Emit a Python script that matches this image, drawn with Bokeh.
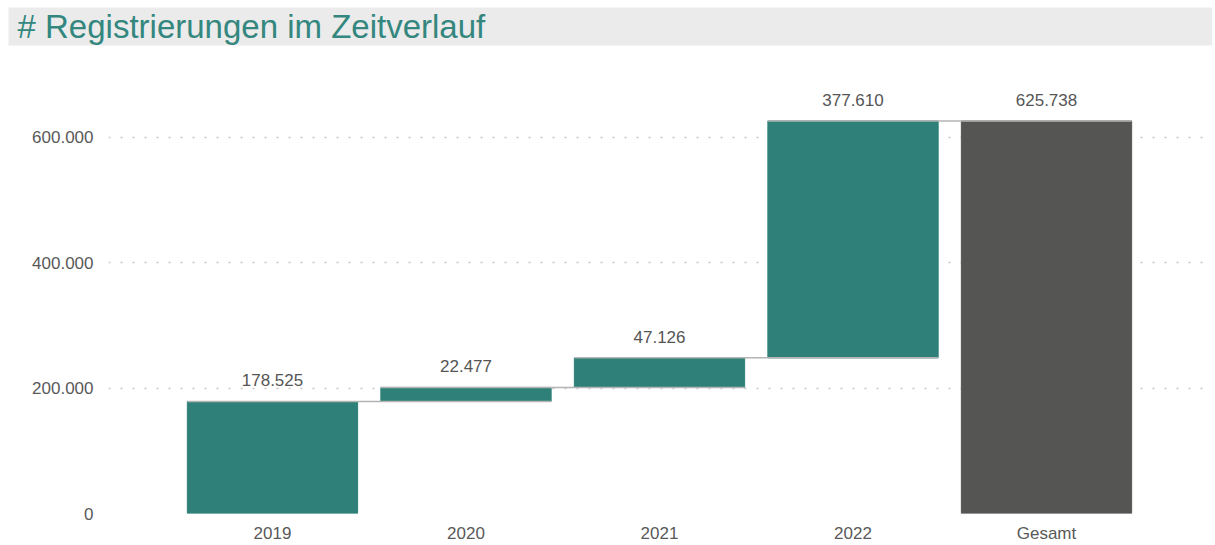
from bokeh.plotting import figure
from bokeh.models import FactorRange, Range1d, ColumnDataSource, CustomJSTickFormatter, Title
from bokeh.core.properties import value
from bokeh.embed import file_html
from bokeh.resources import INLINE

title_text = "# Registrierungen im Zeitverlauf"
categories = ["2019", "2020", "2021", "2022", "Gesamt"]
increments = [178525, 22477, 47126, 377610]
y_ticks = [0, 200000, 400000, 600000]

TEAL = "#2e8078"
DARK = "#555553"
FONT = "Liberation Sans"

# waterfall geometry derived from data
cum = []
s = 0
for v in increments:
    cum.append(s + v)
    s += v
total = s
bottoms = [0] + cum[:-1] + [0]
tops = cum + [total]
vals = increments + [total]
colors = [TEAL] * len(increments) + [DARK]
labels = [f"{v:,}".replace(",", ".") for v in vals]

src = ColumnDataSource(dict(x=categories, bottom=bottoms, top=tops, color=colors, label=labels))

p = figure(width=1215, height=545, output_backend="svg", toolbar_location=None,
           x_range=FactorRange(*categories, range_padding=0.139),
           y_range=Range1d(0, 738000),
           min_border_top=0, min_border_bottom=31, min_border_left=108, min_border_right=5)
p.title = Title(text=title_text, text_font=FONT, text_font_size="33px", text_color="#33877e",
                text_font_style="normal", background_fill_color="#ebebeb",
                padding=dict(left=9, right=727, top=0, bottom=1), offset=-100, standoff=10)
p.outline_line_color = None
p.background_fill_color = "white"

p.vbar(x="x", bottom="bottom", top="top", width=0.88, color="color", source=src)

# connector lines
seg = ColumnDataSource(dict(
    x0=[(categories[i], -0.44) for i in range(len(increments))],
    x1=[(categories[i + 1], 0.44) for i in range(len(increments))],
    y=cum,
))
p.segment(x0="x0", y0="y", x1="x1", y1="y", source=seg, line_color="#b4b4b4", line_width=1.5)

p.text(x="x", y="top", text="label", source=src, text_font=value(FONT), text_font_size="17px",
       text_color="#555555", text_align="center", text_baseline="bottom", y_offset=-15)

p.xgrid.grid_line_color = None
p.ygrid.grid_line_color = "#c8c8c8"
p.ygrid.grid_line_dash = "2 10"
p.ygrid.grid_line_width = 1.5
p.yaxis.ticker = y_ticks
p.yaxis.formatter = CustomJSTickFormatter(code="return tick.toString().replace(/\\B(?=(\\d{3})+(?!\\d))/g, '.');")

for ax in (p.xaxis, p.yaxis):
    ax.axis_line_color = None
    ax.major_tick_line_color = None
    ax.minor_tick_line_color = None
    ax.major_tick_out = 0
    ax.major_tick_in = 0
    ax.minor_tick_out = 0
    ax.major_label_text_font = FONT
    ax.major_label_text_font_size = "17px"
    ax.major_label_text_color = "#595959"
p.yaxis.major_label_standoff = 15
p.xaxis.major_label_standoff = 10

open("out.html", "w").write(file_html(p, INLINE))
